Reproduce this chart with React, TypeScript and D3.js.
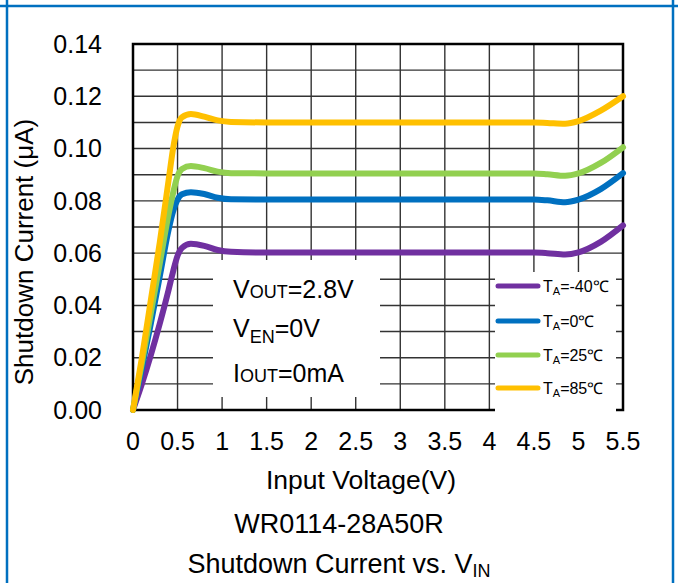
import React from "react";
import * as d3 from "d3";

const voltage = [0, 0.1, 0.2, 0.3, 0.4, 0.45, 0.5, 0.55, 0.65, 0.8, 0.95, 1.1, 1.5, 2, 2.5, 3, 3.5, 4, 4.5, 4.65, 4.85, 5.0, 5.25, 5.5];
const iM40 = [0, 0.01, 0.021, 0.033, 0.046, 0.053, 0.059, 0.062, 0.0636, 0.0628, 0.0612, 0.0605, 0.0602, 0.0602, 0.0602, 0.0602, 0.0602, 0.0602, 0.0602, 0.06, 0.0595, 0.0603, 0.0643, 0.0706];
const i0 = [0, 0.016, 0.033, 0.051, 0.069, 0.076, 0.0805, 0.0825, 0.0833, 0.0826, 0.0812, 0.0806, 0.0805, 0.0805, 0.0805, 0.0805, 0.0805, 0.0805, 0.0805, 0.0802, 0.0795, 0.0805, 0.0845, 0.0906];
const i25 = [0, 0.018, 0.037, 0.056, 0.075, 0.083, 0.0895, 0.0922, 0.0933, 0.0925, 0.0912, 0.0906, 0.0905, 0.0905, 0.0905, 0.0905, 0.0905, 0.0905, 0.0905, 0.0902, 0.0896, 0.0905, 0.0945, 0.1005];
const i85 = [0, 0.02, 0.042, 0.064, 0.088, 0.1, 0.1085, 0.112, 0.1132, 0.1122, 0.1108, 0.1102, 0.11, 0.11, 0.11, 0.11, 0.11, 0.11, 0.11, 0.1098, 0.1095, 0.1105, 0.1145, 0.12];

const seriesNames = ["-40", "0", "25", "85"];
const seriesValues = [iM40, i0, i25, i85];
const seriesColors = ["#7030A0", "#0070C0", "#92D050", "#FFC000"];

const xTicks = [0, 0.5, 1, 1.5, 2, 2.5, 3, 3.5, 4, 4.5, 5, 5.5];
const xTickLabels = ["0", "0.5", "1", "1.5", "2", "2.5", "3", "3.5", "4", "4.5", "5", "5.5"];
const yTicks = [0, 0.02, 0.04, 0.06, 0.08, 0.1, 0.12, 0.14];
const yTickLabels = ["0.00", "0.02", "0.04", "0.06", "0.08", "0.10", "0.12", "0.14"];
const yGrid = [0.01, 0.02, 0.03, 0.04, 0.05, 0.06, 0.07, 0.08, 0.09, 0.1, 0.11, 0.12, 0.13];

const FONT = "'Liberation Sans', Arial, sans-serif";

export default function App() {
  const W = 678, H = 583;
  const x = d3.scaleLinear().domain([0, 5.5]).range([133, 623]);
  const y = d3.scaleLinear().domain([0, 0.14]).range([410, 44]);
  const line = d3
    .line<number>()
    .x((_, i) => x(voltage[i]))
    .y((d) => y(d))
    .curve(d3.curveMonotoneX);

  const legendY = [286, 321, 355, 388];

  return (
    <svg
      width={W}
      height={H}
      style={{ position: "absolute", left: 0, top: 0, background: "#fff" }}
      fontFamily={FONT}
    >
      <rect x={0} y={0} width={W} height={H} fill="#fff" />
      {/* blue frame */}
      <line x1={0} x2={W} y1={6} y2={6} stroke="#0070C0" strokeWidth={2.5} />
      <line x1={7} x2={7} y1={0} y2={H} stroke="#0070C0" strokeWidth={2.5} />
      <line x1={673} x2={673} y1={0} y2={H} stroke="#0070C0" strokeWidth={2.5} />

      {/* grid */}
      {xTicks.slice(1, -1).map((t) => (
        <line key={"gx" + t} x1={x(t)} x2={x(t)} y1={y(0.14)} y2={y(0)} stroke="#333" strokeWidth={1.4} />
      ))}
      {yGrid.map((t) => (
        <line key={"gy" + t} x1={x(0)} x2={x(5.5)} y1={y(t)} y2={y(t)} stroke="#333" strokeWidth={1.4} />
      ))}
      {/* plot border */}
      <rect x={x(0)} y={y(0.14)} width={x(5.5) - x(0)} height={y(0) - y(0.14)} fill="none" stroke="#000" strokeWidth={2.5} />

      {/* annotation box & legend box */}
      <rect x={213} y={260} width={167} height={137} fill="#fff" />
      <rect x={495} y={272} width={121} height={141} fill="#fff" />

      {/* curves */}
      {seriesValues.map((vals, i) => (
        <path key={"s" + i} d={line(vals) || ""} fill="none" stroke={seriesColors[i]} strokeWidth={6} strokeLinejoin="round" strokeLinecap="round" />
      ))}

      {/* y tick labels */}
      {yTicks.map((t, i) => (
        <text key={"yt" + t} x={102} y={y(t)} dy="0.35em" textAnchor="end" fontSize={25} fill="#000">
          {yTickLabels[i]}
        </text>
      ))}
      {/* x tick labels */}
      {xTicks.map((t, i) => (
        <text key={"xt" + t} x={x(t)} y={441} dy="0.35em" textAnchor="middle" fontSize={25} fill="#000">
          {xTickLabels[i]}
        </text>
      ))}

      {/* axis titles */}
      <text transform={`translate(33,252) rotate(-90)`} textAnchor="middle" fontSize={26} fill="#000">
        Shutdown Current (μA)
      </text>
      <text x={361} y={489} textAnchor="middle" fontSize={26.5} fill="#000">
        Input Voltage(V)
      </text>

      {/* annotation */}
      <text x={233} y={298} fontSize={25} fill="#000">
        V<tspan fontSize={18}>OUT</tspan>=2.8V
      </text>
      <text x={233} y={337} fontSize={25} fill="#000">
        V<tspan fontSize={18} dy={6}>EN</tspan><tspan dy={-6}>=0V</tspan>
      </text>
      <text x={233} y={382} fontSize={25} fill="#000">
        I<tspan fontSize={18}>OUT</tspan>=0mA
      </text>

      {/* legend */}
      {seriesNames.map((n, i) => (
        <g key={"lg" + n}>
          <line x1={498} x2={538} y1={legendY[i]} y2={legendY[i]} stroke={seriesColors[i]} strokeWidth={5} strokeLinecap="round" />
          <text x={543} y={legendY[i] + 6} fontSize={16} fill="#000">
            T<tspan fontSize={11} dy={3}>A</tspan><tspan dy={-3}>={n}℃</tspan>
          </text>
        </g>
      ))}

      {/* bottom titles */}
      <text x={339} y={533} textAnchor="middle" fontSize={27} fill="#000">
        WR0114-28A50R
      </text>
      <text x={339} y={573} textAnchor="middle" fontSize={27} fill="#000">
        Shutdown Current vs. V<tspan fontSize={18} dy={4}>IN</tspan>
      </text>
    </svg>
  );
}
